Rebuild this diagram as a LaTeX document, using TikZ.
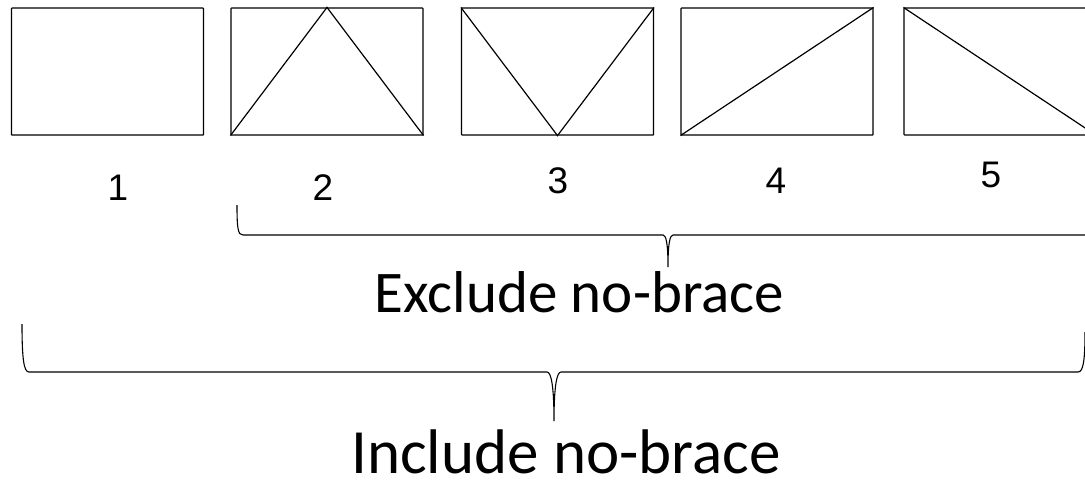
\documentclass[tikz,border=0pt]{standalone}
\usepackage{fontspec}
\setmainfont{Carlito}
\newfontfamily\digitfont{Liberation Sans}
\begin{document}
\begin{tikzpicture}[x=1pt,y=-1pt,
  frame/.style={draw, line width=1.2pt, rectangle, minimum width=192pt, minimum height=127pt, inner sep=0pt, rounded corners=0.6pt},
  inner/.style={line width=1.2pt},
  num/.style={font=\digitfont\fontsize{37}{37}\selectfont, inner sep=0pt},
  captext/.style={inner sep=0pt, anchor=base},
  bracestyle/.style={line width=1.1pt}]
\useasboundingbox (0,0) rectangle (1085,483);
\clip (0,0) rectangle (1085,483);
% boxes
\node[frame] (b1) at (107.5,71.5) {};
\node[frame] (b2) at (327,71.5) {};
\node[frame] (b3) at (557.5,71.5) {};
\node[frame] (b4) at (777,71.5) {};
\node[frame] (b5) at (1000,71.5) {};
\draw[inner] (b2.south west) -- (b2.north) -- (b2.south east);
\draw[inner] (b3.north west) -- (b3.south) -- (b3.north east);
\draw[inner] (b4.south west) -- (b4.north east);
\draw[inner] (b5.north west) -- (b5.south east);
% numbers
\node[num] (n1) at (118,188) {1};
\node[num] (n2) at (323,188) {2};
\node[num] (n3) at (558,181) {3};
\node[num] (n4) at (776,181) {4};
\node[num] (n5) at (991,175) {5};
% exclude brace
\coordinate (eL) at (237,205);
\coordinate (eT) at (668,267);
\coordinate (eR) at (1101,205);
\draw[bracestyle] (eL) .. controls (237,229) and (238,235) .. (243,235)
  -- (663,235) .. controls (666,235) and (668,243) .. (eT)
  .. controls (668,243) and (670,235) .. (673,235)
  -- (1095,235) .. controls (1100,235) and (1101,229) .. (eR);
\node[captext, font=\fontsize{59}{59}\selectfont] (ex) at (579.5,312) {Exclude no-brace};
% include brace
\coordinate (iL) at (22,324);
\coordinate (iT) at (554,421);
\coordinate (iR) at (1085,332);
\draw[bracestyle] (iL) .. controls (22,360) and (24,372) .. (29,372)
  -- (547,372) .. controls (551,372) and (554,385) .. (iT)
  .. controls (554,385) and (557,372) .. (561,372)
  -- (1078,372) .. controls (1083,372) and (1085,362) .. (iR);
\node[captext, font=\fontsize{63}{63}\selectfont] (in) at (566,473) {Include no-brace};
\end{tikzpicture}
\end{document}
